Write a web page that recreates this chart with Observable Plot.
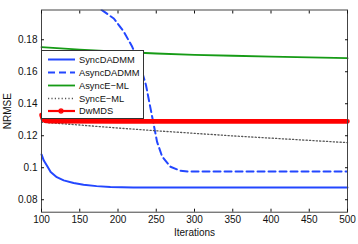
<!DOCTYPE html>
<html><head><meta charset="utf-8">
<script src="https://cdn.jsdelivr.net/npm/d3@7"></script>
<script src="https://cdn.jsdelivr.net/npm/@observablehq/plot@0.6"></script>
<style>
body{margin:0;background:#fff;}
#wrap{position:relative;width:358px;height:244px;font-family:"Liberation Sans",Arial,sans-serif;}
#legend{position:absolute;left:41px;top:50px;width:101px;height:67px;background:#fff;border:1px solid #333;}
#legend svg{display:block;overflow:visible;}
</style></head><body><div id="wrap"></div>
<script>
// ---- data ----
const xTicks = [100, 150, 200, 250, 300, 350, 400, 450, 500];
const yTicks = [0.08, 0.1, 0.12, 0.14, 0.16, 0.18];

const syncDADMMIter = [100, 103, 107, 112, 120, 129, 142, 155, 172, 190, 220, 300, 400, 500];
const syncDADMM     = [0.1083, 0.1045, 0.1014, 0.0973, 0.0941, 0.0921, 0.0904, 0.0894, 0.0885, 0.0879, 0.0877, 0.0877, 0.0877, 0.0877];

const asyncDADMMIter = [100, 130, 160, 179, 194.5, 207.6, 218.6, 229, 236.6, 242.5, 246.8, 251, 257.8, 268.6, 281.7, 292.5, 350, 400, 500];
const asyncDADMM     = [0.215, 0.211, 0.2045, 0.1985, 0.1933, 0.185, 0.1756, 0.1641, 0.1516, 0.1371, 0.1267, 0.1163, 0.1069, 0.1006, 0.0981, 0.0976, 0.0976, 0.0976, 0.0977];

const asyncEMLIter = [100, 150, 200, 250, 300, 350, 400, 450, 500];
const asyncEML     = [0.1754, 0.1738, 0.1725, 0.1714, 0.1706, 0.1700, 0.1695, 0.1690, 0.1685];

const syncEMLIter = [100, 150, 200, 250, 300, 350, 400, 450, 500];
const syncEML     = [0.1285, 0.1267, 0.1248, 0.1231, 0.1215, 0.1199, 0.1185, 0.1171, 0.1157];

const dwMDSIter = [100, 102, 105, 110, 200, 300, 400, 500];
const dwMDS     = [0.1330, 0.1302, 0.1294, 0.1291, 0.1290, 0.1290, 0.1290, 0.1290];

const seriesNames = ["SyncDADMM", "AsyncDADMM", "AsyncE\u2212ML", "SyncE\u2212ML", "DwMDS"];
const seriesIters = [syncDADMMIter, asyncDADMMIter, asyncEMLIter, syncEMLIter, dwMDSIter];
const seriesVals  = [syncDADMM, asyncDADMM, asyncEML, syncEML, dwMDS];
const seriesColor = ["#2347ff", "#2347ff", "#169b16", "#555555", "#ff0000"];
const seriesDash  = [null, "7,4", null, "1.2,2.2", null];
const seriesWidth = [2, 2, 1.8, 1.3, 4.6];

const lineMarks = seriesNames.map((n, i) => Plot.line(seriesIters[i], {
  x: seriesIters[i], y: seriesVals[i],
  stroke: seriesColor[i], strokeWidth: seriesWidth[i],
  strokeDasharray: seriesDash[i], clip: i === 1
}));

const chart = Plot.plot({
  width: 358, height: 244,
  marginLeft: 41, marginRight: 11, marginTop: 9.5, marginBottom: 32.3,
  style: {fontFamily: "Liberation Sans, Arial, sans-serif", fontSize: "10px", color: "#111", background: "#fff"},
  x: {domain: [100, 500]},
  y: {domain: [0.0722, 0.1986]},
  marks: [
    ...lineMarks,
    Plot.frame({stroke: "#444"}),
    Plot.axisX(xTicks, {anchor: "bottom", tickSize: 0, tickPadding: 4, label: "Iterations", labelAnchor: "center", labelOffset: 24, labelArrow: "none"}),
    Plot.axisX(xTicks, {anchor: "bottom", tickSize: -3, text: null, label: null}),
    Plot.axisX(xTicks, {anchor: "top", tickSize: -3, text: null, label: null}),
    Plot.axisY(yTicks, {anchor: "left", tickSize: 0, tickPadding: 4, tickFormat: d3.format("~g"), label: "NRMSE", labelAnchor: "center", labelOffset: 38, labelArrow: "none"}),
    Plot.axisY(yTicks, {anchor: "left", tickSize: -3, text: null, label: null}),
    Plot.axisY(yTicks, {anchor: "right", tickSize: -3, text: null, label: null})
  ]
});
const wrap = document.getElementById("wrap");
wrap.appendChild(chart);

// ---- legend ----
const leg = document.createElement("div");
leg.id = "legend";
wrap.appendChild(leg);
const svg = d3.select(leg).append("svg").attr("width", 101).attr("height", 67);
const rowY = [8.5, 21.5, 34.5, 47.5, 60];
seriesNames.forEach((n, i) => {
  const g = svg.append("g").attr("transform", `translate(0,${rowY[i]})`);
  g.append("line").attr("x1", 6).attr("x2", 33).attr("y1", 0).attr("y2", 0)
    .attr("stroke", seriesColor[i]).attr("stroke-width", Math.min(seriesWidth[i], 2.2))
    .attr("stroke-dasharray", seriesDash[i]);
  if (i === 4) {
    g.append("path").attr("d", "M16.5,-3V3M13.5,0H22.5M14.4,-2.2L18.6,2.2M14.4,2.2L18.6,-2.2")
      .attr("stroke", "#ff0000").attr("stroke-width", 1.2).attr("transform", "translate(2.5,0)");
  }
  g.append("text").attr("x", 37).attr("y", 0).attr("dy", "0.35em")
    .attr("font-size", 9.3).attr("font-family", "Liberation Sans, Arial, sans-serif").attr("fill", "#111").text(n);
});
</script>
</body></html>
